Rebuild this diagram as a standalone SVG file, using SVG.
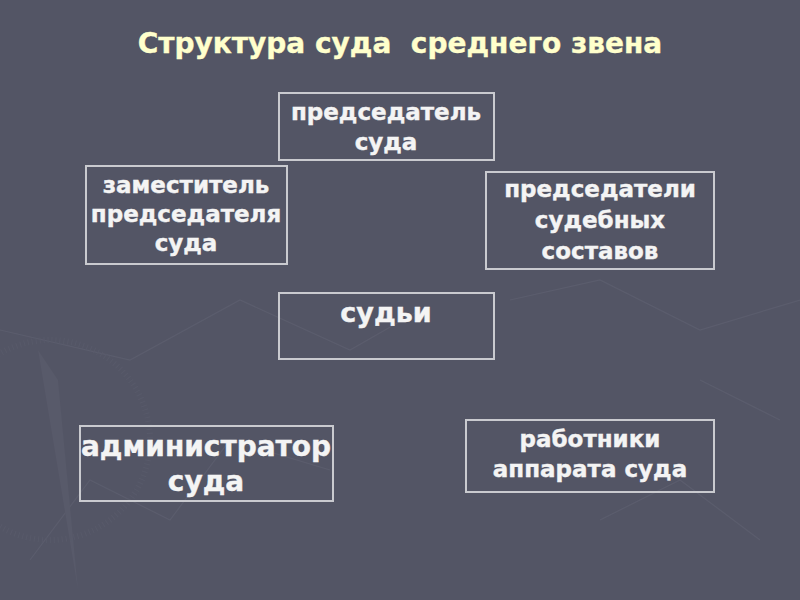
<svg xmlns="http://www.w3.org/2000/svg" width="800" height="600" viewBox="0 0 800 600">
<defs>
<style>
.bg{fill:#535565}
.box{fill:none;stroke:#c9cacf;stroke-width:2}
.t{font-family:"DejaVu Sans","Liberation Sans",sans-serif;font-weight:bold;fill:#f4f4f4;stroke:#f4f4f4;stroke-width:0.4;text-anchor:middle}
.title{font-family:"DejaVu Sans","Liberation Sans",sans-serif;font-weight:bold;fill:#ffffcc;stroke:#ffffcc;stroke-width:0.4;font-size:28px;white-space:pre}
.tex{fill:none;stroke:#5b5d6d;stroke-width:1.2}
</style>
</defs>
<rect class="bg" x="0" y="0" width="800" height="600"/>
<g id="texture">
<path class="tex" d="M0 330 L130 360 L240 300 L350 350 L420 310 M30 560 L90 480 L170 520 L230 440 L330 470 M510 300 L600 280 L700 330 L800 300 M600 520 L680 480 L760 540 M700 380 L780 420"/>
<path d="M38 350 L78 590 L58 380 Z" fill="#585a6a"/>
<circle cx="50" cy="440" r="100" fill="none" stroke="#585a6a" stroke-width="6" stroke-dasharray="1 3"/>
</g>
<text class="title" x="400" y="53" text-anchor="middle" xml:space="preserve">Структура суда  среднего звена</text>
<g id="n1"><rect class="box" x="279" y="93" width="215" height="67"/>
<text class="t" font-size="23" x="386" y="120">председатель</text><text class="t" font-size="23" x="386" y="150">суда</text></g>
<g id="n2"><rect class="box" x="86" y="166" width="201" height="98"/>
<text class="t" font-size="23" x="186" y="193">заместитель</text><text class="t" font-size="23" x="186" y="222">председателя</text><text class="t" font-size="23" x="186" y="251">суда</text></g>
<g id="n3"><rect class="box" x="486" y="172" width="228" height="97"/>
<text class="t" font-size="23" x="600" y="197">председатели</text><text class="t" font-size="23" x="600" y="228">судебных</text><text class="t" font-size="23" x="600" y="259">составов</text></g>
<g id="n4"><rect class="box" x="279" y="293" width="215" height="66"/>
<text class="t" font-size="27" x="386" y="322">судьи</text></g>
<g id="n5"><rect class="box" x="80" y="426" width="253" height="75"/>
<text class="t" font-size="28" x="206" y="456">администратор</text><text class="t" font-size="28" x="206" y="491">суда</text></g>
<g id="n6"><rect class="box" x="466" y="420" width="248" height="72"/>
<text class="t" font-size="23" x="590" y="447">работники</text><text class="t" font-size="23" x="590" y="477">аппарата суда</text></g>
<g id="connectors"/>
</svg>
